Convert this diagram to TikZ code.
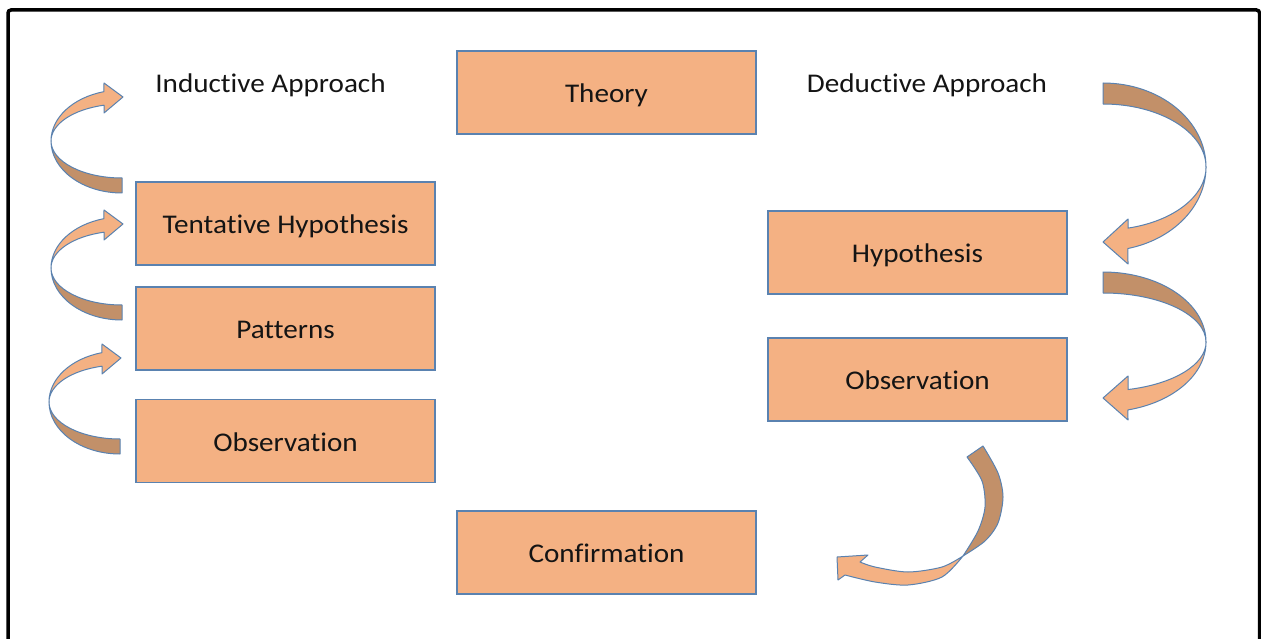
\documentclass[tikz,border=0pt]{standalone}
\usepackage{fontspec}
\setmainfont{Carlito}[FakeStretch=1.08,Ligatures=NoCommon]
\definecolor{boxfill}{HTML}{F4B183}
\definecolor{boxline}{HTML}{5A82B0}
\definecolor{backside}{HTML}{C29069}
\definecolor{ink}{HTML}{141414}

% curled arrow on the left: tail at the bottom right, head pointing right at the top
\newcommand{\upcurl}[2]{%
  \filldraw[frontpart] ({#1-71},{-#2}) arc[start angle=180,end angle=104.7,x radius=71pt,y radius=51pt]
    -- ({#1-18},{-#2+58}) -- ({#1+1},{-#2+44}) -- ({#1-18},{-#2+28}) -- ({#1-18},{-#2+35.8})
    arc[start angle=104.7,end angle=180,x radius=71pt,y radius=37pt] -- cycle;
  \filldraw[backpart] ({#1-71},{-#2}) arc[start angle=180,end angle=270,x radius=71pt,y radius=52pt]
    -- ({#1},{-#2-37}) arc[start angle=270,end angle=180,x radius=71pt,y radius=37pt] -- cycle;
}
% curled arrow on the right: tail at the top left, head pointing left at the bottom
% #1,#2 centre; #3 outer, #4 inner radius; #5,#6,#7 head corner, tip, corner offsets
\newcommand{\downcurl}[7]{%
  \filldraw[backpart] ({#1},{-#2+#3}) arc[start angle=90,end angle=0,x radius=103pt,y radius=#3pt]
    arc[start angle=0,end angle=90,x radius=103pt,y radius=#4pt] -- cycle;
  \filldraw[frontpart] ({#1+103},{-#2}) arc[start angle=0,end angle=-76,x radius=103pt,y radius=#3pt]
    -- ({#1+25},{-#2-#7}) -- ({#1},{-#2-#6}) -- ({#1+25},{-#2-#5}) -- ({#1+25},{-#2-0.970*#4})
    arc[start angle=-76,end angle=0,x radius=103pt,y radius=#4pt] -- cycle;
}

\begin{document}
\begin{tikzpicture}[x=1pt,y=1pt,
  stagebox/.style={draw=boxline,line width=1.1pt,fill=boxfill,minimum width=299pt,
    minimum height=83pt,inner sep=0pt,text height=20pt,text depth=0pt,text=ink,
    font=\fontsize{27}{32}\selectfont},
  heading/.style={inner sep=0pt,text height=20pt,text depth=0pt,text=ink,
    font=\fontsize{27}{32}\selectfont},
  frontpart/.style={fill=boxfill,draw=boxline,line width=1pt,line join=round},
  backpart/.style={fill=backside,draw=boxline,line width=1pt,line join=round}]
\useasboundingbox (0,0) rectangle (1261,-639);
\fill[white] (0,0) rectangle (1261,-639);
\clip (0,0) rectangle (1261,-639);
\draw[line width=3.5pt,rounded corners=3pt] (8,-10) rectangle (1259.5,-665);

% headings
\node[heading] (ind) at (270.5,-82.5) {Inductive Approach};
\node[heading] (ded) at (927,-82.5) {Deductive Approach};

% stages
\node[stagebox] (theory)   at (606.5,-92.5) {Theory};
\node[stagebox] (tentative) at (285.5,-223.5) {Tentative Hypothesis};
\node[stagebox] (patterns) at (285.5,-328.5) {Patterns};
\node[stagebox] (obsleft)  at (285.5,-441) {Observation};
\node[stagebox] (hypo)     at (917.5,-252.5) {Hypothesis};
\node[stagebox] (obsright) at (917.5,-379.5) {Observation};
\node[stagebox] (confirm)  at (606.5,-552.5) {Confirmation};

% inductive curls
\upcurl{122}{141}
\upcurl{122}{268}
\upcurl{120}{402}

% deductive curls
\downcurl{1103}{167}{84}{63}{52}{75}{97}
\downcurl{1103}{342}{70}{49}{34}{56}{78}

% last curl, swinging down towards Confirmation
\filldraw[frontpart]
  plot[smooth] coordinates {(963,-556) (942,-567) (908,-572) (875,-567) (860,-562)}
  -- (868,-555) -- (837,-557) -- (838,-580) -- (845,-575)
  -- plot[smooth] coordinates {(845,-575) (875,-582) (908,-585) (942,-577) (963,-556)} -- cycle;
\filldraw[backpart]
  plot[smooth] coordinates {(983,-446) (998,-473) (1003,-497) (998,-523) (985,-541) (963,-556)}
  -- plot[smooth] coordinates {(963,-556) (978,-531) (985,-507) (982,-481) (967,-457)} -- cycle;
\end{tikzpicture}
\end{document}
